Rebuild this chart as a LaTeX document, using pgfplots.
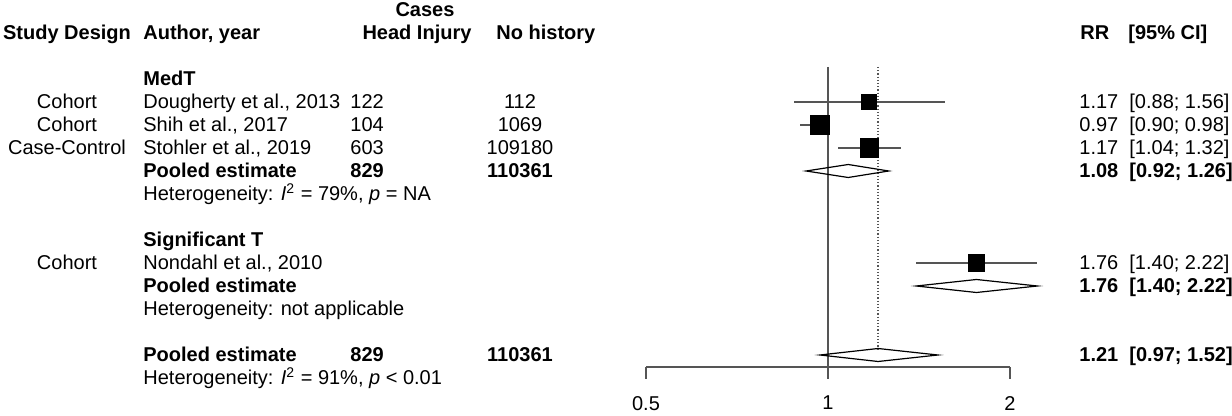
\documentclass[border=0pt]{standalone}
\usepackage{fontspec}
\setmainfont{Liberation Sans}
\usepackage{pgfplots}
\pgfplotsset{compat=1.18}
\definecolor{lg}{RGB}{85,85,85}
\begin{document}
\begin{tikzpicture}[font=\fontsize{10pt}{12pt}\selectfont,
  tl/.style={inner sep=0pt, anchor=base west},
  tc/.style={inner sep=0pt, anchor=base}]
\begin{axis}[
  at={(323pt,-183.5pt)}, anchor=south west,
  scale only axis, width=182pt, height=183.5pt,
  xmode=log, log basis x=2, xmin=0.5, xmax=2, ymin=-367, ymax=0,
  axis x line=bottom, axis y line=none,
  axis line style={-, lg, line width=0.7pt},
  xtick={0.5,1,2}, xticklabels={0.5,1,2},
  xtick align=outside, major tick length=6pt,
  tick style={lg, line width=0.7pt},
  xticklabel style={font=\fontsize{10pt}{12pt}\selectfont, text=black, yshift=-5pt},
  /pgf/number format/assume math mode=true,
  clip=false,
]
% reference lines
\addplot[lg, line width=0.7pt] coordinates {(1,-67) (1,-367)};
\addplot[lg, line width=0.6pt, densely dotted] coordinates {(1.21,-67) (1.21,-349)};
% confidence intervals
\addplot[lg, line width=0.75pt] coordinates {(0.88,-102) (1.56,-102)};
\addplot[lg, line width=0.75pt] coordinates {(0.90,-125) (0.98,-125)};
\addplot[lg, line width=0.75pt] coordinates {(1.04,-148) (1.32,-148)};
\addplot[lg, line width=0.75pt] coordinates {(1.40,-263) (2.22,-263)};
% study estimates
\addplot[only marks, mark=square*, mark size=3.8pt, mark options={fill=black, draw=black, line width=0.4pt}] coordinates {(1.17,-102)};
\addplot[only marks, mark=square*, mark size=4.8pt, mark options={fill=black, draw=black, line width=0.4pt}] coordinates {(0.97,-125)};
\addplot[only marks, mark=square*, mark size=4.55pt, mark options={fill=black, draw=black, line width=0.4pt}] coordinates {(1.17,-148)};
\addplot[only marks, mark=square*, mark size=4.05pt, mark options={fill=black, draw=black, line width=0.4pt}] coordinates {(1.76,-263)};
% pooled diamonds
\addplot[black, line width=0.6pt] coordinates {(0.92,-171) (1.08,-164.5) (1.26,-171) (1.08,-177.5)} -- cycle;
\addplot[black, line width=0.6pt] coordinates {(1.40,-286) (1.76,-279.5) (2.22,-286) (1.76,-292.5)} -- cycle;
\addplot[black, line width=0.6pt] coordinates {(0.97,-355) (1.21,-348.5) (1.52,-355) (1.21,-361.5)} -- cycle;
\end{axis}
\begin{scope}[x=0.5pt, y=-0.5pt]
% headers
\node[tc] at (425,17) {\bfseries Cases};
\node[tc] at (67,40) {\bfseries Study Design};
\node[tl] at (143,40) {\bfseries Author, year};
\node[tc] at (417,40) {\bfseries Head Injury};
\node[tl] at (496,40) {\bfseries No history};
\node[tl] at (1080,40) {\bfseries RR};
\node[tl] at (1128,40) {\bfseries [95\% CI]};
% subgroup MedT
\node[tl] at (143,86) {\bfseries MedT};
\node[tc] at (67,109) {Cohort};
\node[tl] at (143,109) {Dougherty et al., 2013};
\node[tl] at (350,109) {122};
\node[tc] at (520,109) {112};
\node[tl] at (1079,109) {1.17};
\node[tl] at (1129,109) {[0.88; 1.56]};
\node[tc] at (67,132) {Cohort};
\node[tl] at (143,132) {Shih et al., 2017};
\node[tl] at (350,132) {104};
\node[tc] at (520,132) {1069};
\node[tl] at (1079,132) {0.97};
\node[tl] at (1129,132) {[0.90; 0.98]};
\node[tc] at (67,155) {Case-Control};
\node[tl] at (143,155) {Stohler et al., 2019};
\node[tl] at (350,155) {603};
\node[tc] at (520,155) {109180};
\node[tl] at (1079,155) {1.17};
\node[tl] at (1129,155) {[1.04; 1.32]};
\node[tl] at (143,178) {\bfseries Pooled estimate};
\node[tl] at (350,178) {\bfseries 829};
\node[tc] at (520,178) {\bfseries 110361};
\node[tl] at (1079,178) {\bfseries 1.08};
\node[tl] at (1129,178) {\bfseries [0.92; 1.26]};
\node[tl] at (143,201) {Heterogeneity: \textit{I}\textsuperscript{2} = 79\%, \textit{p} = NA};
% subgroup Significant T
\node[tl] at (143,247) {\bfseries Significant T};
\node[tc] at (67,270) {Cohort};
\node[tl] at (143,270) {Nondahl et al., 2010};
\node[tl] at (1079,270) {1.76};
\node[tl] at (1129,270) {[1.40; 2.22]};
\node[tl] at (143,293) {\bfseries Pooled estimate};
\node[tl] at (1079,293) {\bfseries 1.76};
\node[tl] at (1129,293) {\bfseries [1.40; 2.22]};
\node[tl] at (143,316) {Heterogeneity: not applicable};
% overall
\node[tl] at (143,362) {\bfseries Pooled estimate};
\node[tl] at (350,362) {\bfseries 829};
\node[tc] at (520,362) {\bfseries 110361};
\node[tl] at (1079,362) {\bfseries 1.21};
\node[tl] at (1129,362) {\bfseries [0.97; 1.52]};
\node[tl] at (143,385) {Heterogeneity: \textit{I}\textsuperscript{2} = 91\%, \textit{p} < 0.01};
\end{scope}
\pgfresetboundingbox
\useasboundingbox (0,0) rectangle (616pt,-208pt);
\end{tikzpicture}
\end{document}
